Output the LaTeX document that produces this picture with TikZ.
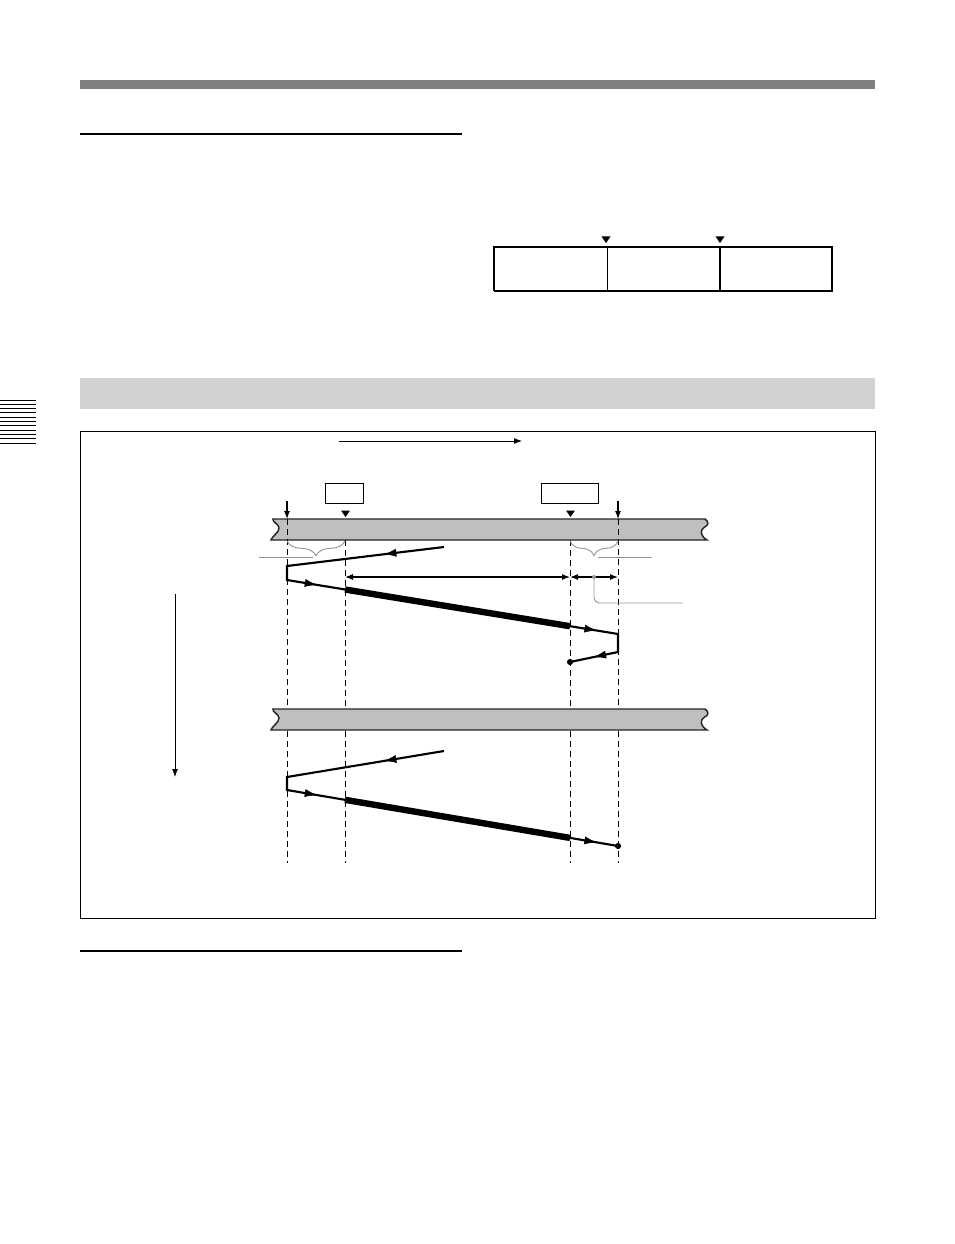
\documentclass[tikz,border=0pt]{standalone}
\usetikzlibrary{arrows.meta, positioning, decorations.pathreplacing, decorations.markings}
\definecolor{bargray}{RGB}{128,128,131}
\definecolor{bandgray}{RGB}{209,210,212}
\definecolor{tapegray}{RGB}{190,191,193}
\definecolor{leadgray}{RGB}{150,150,150}

\begin{document}
\begin{tikzpicture}[x=0.75pt,y=-0.75pt,>={Latex[length=6pt,width=4.5pt]}]
    \tikzstyle{tape}=[draw=black!85, line width=1.1pt, fill=tapegray]
    \tikzstyle{guide}=[dash pattern=on 4.5pt off 3pt, line width=0.7pt]
    \tikzstyle{run}=[line width=1.6pt, line join=miter]
    \tikzstyle{play}=[line width=4.8pt]
    \tikzstyle{lead}=[draw=leadgray, line width=0.7pt]
    \tikzstyle{markbox}=[draw, line width=0.6pt, minimum width=28.5pt, minimum height=15pt, inner sep=0pt]
    \tikzset{flow/.style={postaction={decorate,decoration={markings,
        mark=at position #1 with {\arrow{Latex[length=9pt,width=6pt]}}}}}}

    \useasboundingbox (0,0) rectangle (954,1244);

    % page furniture
    \fill[bargray] (80,80) rectangle (875,89);
    \draw[line width=0.9pt] (80,134) -- (462,134);
    \draw[line width=0.9pt] (80,951) -- (462,951);
    \fill[bandgray] (80,378) rectangle (875,409);
    \foreach \i in {0,...,10}
        \draw[line width=0.7pt] (0,{400+4.3*\i}) -- (36,{400+4.3*\i});

    % the table with its two cue marks
    \draw[line width=0.8pt] (494,291) -- (494,247) -- (832,247) -- (832,291);
    \draw[line width=1.6pt] (493.5,291) -- (832.5,291);
    \foreach \x in {607.5,720}
        \draw[line width=0.8pt] (\x,247) -- (\x,291);
    \foreach \x in {606,720}
        \fill (\x-4.5,236.5) -- (\x+4.5,236.5) -- (\x,243) -- cycle;

    % the diagram frame
    \draw[line width=0.7pt] (80,431) rectangle (875,918);
    \coordinate (dirL) at (339,441);
    \coordinate (dirR) at (522,441);
    \draw[->, line width=0.7pt] (dirL) -- (dirR);
    \coordinate (timeT) at (175,594);
    \coordinate (timeB) at (175,777);
    \draw[->, line width=0.7pt] (timeT) -- (timeB);

    % Draw the two tapes
    \foreach \ty in {519,709}
        \path[tape, shift={(0,\ty)}]
            (273,0) -- (705,0) .. controls (709,3) and (709,6) .. (704,8.5)
            .. controls (700,11) and (700,17) .. (707,21) -- (271,21)
            .. controls (272,17) and (279,14) .. (279,9)
            .. controls (279,5) and (272,3) .. (273,0) -- cycle;

    % dashed guides
    \foreach \x in {287,618} {
        \draw[guide] (\x,519) -- (\x,709);
        \draw[guide] (\x,731) -- (\x,863);
    }
    \foreach \x in {345,570} {
        \draw[guide] (\x,540) -- (\x,709);
        \draw[guide] (\x,731) -- (\x,863);
    }

    % in and out points
    \node[markbox] (inbox) at (344,493) {};
    \node[markbox, minimum width=43pt] (outbox) at (570,493) {};
    \coordinate (inT) at (287,501);
    \coordinate (inB) at (287,519);
    \coordinate (outT) at (618,501);
    \coordinate (outB) at (618,519);
    \draw[->, line width=0.8pt] (inT) -- (inB);
    \draw[->, line width=0.8pt] (outT) -- (outB);
    \foreach \x in {345.5,570.5}
        \fill (\x-4.5,510.5) -- (\x+4.5,510.5) -- (\x,517) -- cycle;

    % braces under the first tape
    \draw[lead, decorate, decoration={brace, amplitude=11pt}] (345,541) -- (287,541);
    \draw[decorate, lead, decoration={brace, amplitude=11pt}] (618,541) -- (570,541);
    \coordinate (braceL) at (313,557);
    \coordinate (noteL) at (259,557);
    \coordinate (braceR) at (598,557);
    \coordinate (noteR) at (652,557);
    \draw[lead] (braceL) -- (noteL);
    \draw[lead] (braceR) -- (noteR);

    % spans
    \coordinate (spanA) at (345,577);
    \coordinate (spanB) at (570,577);
    \coordinate (spanC) at (618,577);
    \draw[<->, line width=0.8pt] (spanA) -- (spanB);
    \draw[<->, line width=0.8pt] (spanB) -- (spanC);
    \coordinate (tagP) at (594,577);
    \coordinate (tagE) at (683,603);
    \fill[leadgray] (tagP) circle (1.5pt);
    \draw[lead, rounded corners=4pt] (tagP) |- (tagE);

    % first pass
    \coordinate (a1) at (444,547);
    \coordinate (a2) at (287,566);
    \coordinate (a3) at (287,580);
    \coordinate (a4) at (618,634);
    \coordinate (a5) at (618,652);
    \coordinate (a6) at (570,662);
    \coordinate (aP) at (345,589.5);
    \coordinate (aQ) at (570,626.2);
    \draw[run] (a1) -- (a2) -- (a3) -- (a4) -- (a5) -- (a6);
    \draw[play] (aP) -- (aQ);
    \path[flow=0.38] (a1) -- (a2);
    \path[flow=0.09] (a3) -- (a4);
    \path[flow=0.935] (a3) -- (a4);
    \path[flow=0.5] (a5) -- (a6);
    \fill (a6) circle (2.3pt);

    % second pass
    \coordinate (b1) at (444,751);
    \coordinate (b2) at (287,777);
    \coordinate (b3) at (287,790);
    \coordinate (b4) at (618,846);
    \coordinate (bP) at (345,799.8);
    \coordinate (bQ) at (570,837.9);
    \draw[run] (b1) -- (b2) -- (b3) -- (b4);
    \draw[play] (bP) -- (bQ);
    \path[flow=0.38] (b1) -- (b2);
    \path[flow=0.09] (b3) -- (b4);
    \path[flow=0.935] (b3) -- (b4);
    \fill (b4) circle (2.3pt);
\end{tikzpicture}
\end{document}
